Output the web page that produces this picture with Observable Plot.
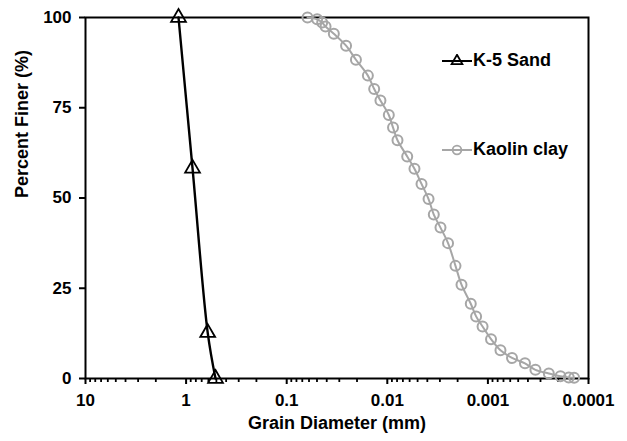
<!DOCTYPE html>
<html>
<head>
<meta charset="utf-8">
<script src="https://cdn.jsdelivr.net/npm/d3@7"></script>
<script src="https://cdn.jsdelivr.net/npm/@observablehq/plot@0.6"></script>
<style>
  body { margin: 0; background: #fff; }
  #chart { position: relative; width: 627px; height: 441px; font-family: "Liberation Sans", Arial, sans-serif; }
  #chart svg { display: block; }
  .legend { position: absolute; left: 442px; display: flex; align-items: center; font-weight: bold; font-size: 18px; color: #000; }
  .legend svg { margin-right: 1px; }
</style>
</head>
<body>
<div id="chart"></div>
<script>
// Grain size distribution: K-5 sand (sieve) and kaolin clay (hydrometer)
const sandDiameter = [1.19, 0.863, 0.61, 0.51];
const sandFiner    = [100, 58.2, 12.7, 0];

const clayDiameter = [0.0621, 0.0498, 0.0444, 0.0411, 0.0340, 0.0257, 0.0205, 0.0156,
                      0.0135, 0.0117, 0.00966, 0.00877, 0.00792, 0.00634, 0.00537, 0.00457,
                      0.00389, 0.00345, 0.00296, 0.00249, 0.00210, 0.00183, 0.00148, 0.00131,
                      0.00113, 0.000931, 0.000750, 0.000576, 0.000428, 0.000337, 0.000248,
                      0.000190, 0.000157, 0.000139];
const clayFiner    = [100, 99.5, 98.6, 97.5, 95.5, 92.2, 88.3, 83.9,
                      80.2, 77.0, 73.0, 69.5, 66.0, 61.5, 58.1, 53.9,
                      49.7, 45.4, 41.8, 37.5, 31.2, 26.0, 20.7, 17.2,
                      14.4, 10.9, 7.8, 5.7, 4.2, 2.4, 1.4,
                      0.6, 0.3, 0.2];

const xTicks      = [10, 1, 0.1, 0.01, 0.001, 0.0001];
const xTickLabels = ["10", "1", "0.1", "0.01", "0.001", "0.0001"];
const yTicks      = [0, 25, 50, 75, 100];

const seriesNames = ["K-5 Sand", "Kaolin clay"];
const sandColor = "#000000";
const clayColor = "#a6a6a6";

const sand = sandDiameter.map((d, i) => ({d, p: sandFiner[i]}));
const clay = clayDiameter.map((d, i) => ({d, p: clayFiner[i]}));

// minor log ticks (2..9 within each decade)
const minorTicks = [];
for (let k = 0; k < xTicks.length - 1; k++) {
  const base = xTicks[k + 1];
  for (let m = 2; m <= 9; m++) minorTicks.push(+(base * m).toPrecision(6));
}
const tickLabel = new Map(xTicks.map((t, i) => [t, xTickLabels[i]]));

const fontFamily = "Liberation Sans, Arial, sans-serif";

const plot = Plot.plot({
  width: 627,
  height: 441,
  marginLeft: 85,
  marginRight: 39,
  marginTop: 17,
  marginBottom: 63,
  style: {fontFamily, fontWeight: "bold", color: "#000", background: "#fff"},
  x: {type: "log", domain: [10, 0.0001], label: null},
  y: {domain: [0, 100], label: null},
  marks: [
    Plot.axisX(minorTicks, {tickSize: 4, strokeWidth: 1.8, tickFormat: () => "", label: null}),
    Plot.axisX(xTicks, {tickSize: 6, strokeWidth: 2, tickPadding: 9, fontSize: 17, fontWeight: "bold",
                        tickFormat: d => tickLabel.get(d), label: null}),
    Plot.axisY(yTicks, {tickSize: 6, strokeWidth: 2, tickPadding: 8, fontSize: 17, fontWeight: "bold", label: null}),
    Plot.text(["Grain Diameter (mm)"], {frameAnchor: "bottom", dy: 50, fontSize: 18, fontWeight: "bold"}),
    Plot.text(["Percent Finer (%)"], {frameAnchor: "left", dx: -63, rotate: -90, fontSize: 18, fontWeight: "bold"}),
    Plot.frame({stroke: "#000", strokeWidth: 2}),
    Plot.line(clay, {x: "d", y: "p", stroke: clayColor, strokeWidth: 2, curve: "catmull-rom"}),
    Plot.dot(clay, {x: "d", y: "p", r: 5, stroke: clayColor, strokeWidth: 2, fill: "none"}),
    Plot.line(sand, {x: "d", y: "p", stroke: sandColor, strokeWidth: 2.4, curve: "catmull-rom"}),
    Plot.dot(sand, {x: "d", y: "p", symbol: "triangle", r: 5.5, stroke: sandColor, strokeWidth: 1.8, fill: "none"})
  ]
});

const chart = document.getElementById("chart");
chart.appendChild(plot);

// legend inside the plot area, upper right
function legendRow(name, color, symbol, top) {
  const row = document.createElement("div");
  row.className = "legend";
  row.style.top = top + "px";
  const icon = d3.create("svg").attr("width", 30).attr("height", 14);
  icon.append("line").attr("x1", 0).attr("x2", 30).attr("y1", 7).attr("y2", 7)
      .attr("stroke", color).attr("stroke-width", 2);
  icon.append("path").attr("transform", "translate(15,7)")
      .attr("d", d3.symbol(symbol, symbol === d3.symbolTriangle ? 50 : 60)())
      .attr("fill", "none").attr("stroke", color).attr("stroke-width", 1.8);
  row.appendChild(icon.node());
  const label = document.createElement("span");
  label.textContent = name;
  row.appendChild(label);
  chart.appendChild(row);
}
legendRow(seriesNames[0], sandColor, d3.symbolTriangle, 50);
legendRow(seriesNames[1], clayColor, d3.symbolCircle, 139);
</script>
</body>
</html>
